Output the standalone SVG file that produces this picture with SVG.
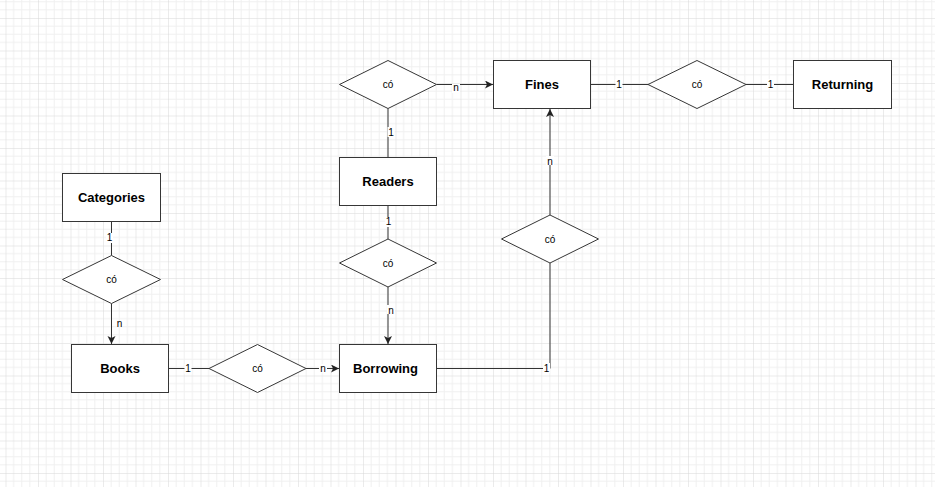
<svg xmlns="http://www.w3.org/2000/svg" width="935" height="487" viewBox="0 0 935 487">
<defs>
<pattern id="grid" patternUnits="userSpaceOnUse" x="5.5" y="18" width="32.5" height="32.5">
<path d="M8.125 0V32.5M16.25 0V32.5M24.375 0V32.5M0 8.125H32.5M0 16.25H32.5M0 24.375H32.5" stroke="#f0f0f0" stroke-width="1" fill="none"/>
<path d="M0 0V32.5M0 0H32.5" stroke="#d8d8d8" stroke-width="1" fill="none"/>
</pattern>
<marker id="arr" markerUnits="userSpaceOnUse" markerWidth="10" markerHeight="10" refX="8" refY="4" orient="auto">
<path d="M0,0 L8,4 L0,8 L2,4 Z" fill="#222"/>
</marker>
<style>
.ent{fill:#fff;stroke:#363636;stroke-width:1}
.rel{fill:#fff;stroke:#363636;stroke-width:1}
.nt{font-family:"Liberation Sans",Arial,sans-serif;font-size:13px;font-weight:bold;fill:#000;text-anchor:middle;dominant-baseline:central}
.rt{font-family:"Liberation Sans",Arial,sans-serif;font-size:10px;fill:#000;text-anchor:middle;dominant-baseline:central}
.edge{fill:none;stroke:#333;stroke-width:1}
.lbl{font-family:"Liberation Sans",Arial,sans-serif;font-size:10px;fill:#000;text-anchor:middle}
.lbg{fill:#fff}
</style>
</defs>
<rect width="935" height="487" fill="#fff"/>
<rect width="935" height="487" fill="url(#grid)"/>

<g id="connectors">
<path class="edge" d="M388 108.5V157.5"/>
<path class="edge" d="M436.5 84.5H493" marker-end="url(#arr)"/>
<path class="edge" d="M590.5 84.5H648"/>
<path class="edge" d="M746 84.5H793.5"/>
<path class="edge" d="M111.5 221.5V255.5"/>
<path class="edge" d="M111.5 303.5V344" marker-end="url(#arr)"/>
<path class="edge" d="M168.5 368.5H209"/>
<path class="edge" d="M306 368.5H339" marker-end="url(#arr)"/>
<path class="edge" d="M388 205.5V239"/>
<path class="edge" d="M388 287V344" marker-end="url(#arr)"/>
<path class="edge" d="M436.5 368.5H550V263"/>
<path class="edge" d="M550 215V109" marker-end="url(#arr)"/>

<rect class="lbg" x="452" y="84" width="8" height="9"/>
<text class="lbl" x="456" y="91">n</text>
<rect class="lbg" x="615.5" y="79" width="7" height="10"/>
<text class="lbl" x="619" y="87.5">1</text>
<rect class="lbg" x="767" y="79" width="7" height="10"/>
<text class="lbl" x="770.5" y="87.5">1</text>
<rect class="lbg" x="387.5" y="127" width="7" height="10"/>
<text class="lbl" x="391" y="135.5">1</text>
<rect class="lbg" x="106" y="233" width="7" height="10"/>
<text class="lbl" x="109.5" y="241">1</text>
<text class="lbl" x="119.5" y="327">n</text>
<rect class="lbg" x="184.5" y="364" width="7" height="10"/>
<text class="lbl" x="188" y="372">1</text>
<rect class="lbg" x="319" y="364" width="8" height="9"/>
<text class="lbl" x="323" y="371.5">n</text>
<rect class="lbg" x="385" y="217" width="7" height="10"/>
<text class="lbl" x="388.5" y="225">1</text>
<rect class="lbg" x="387" y="305" width="8" height="9"/>
<text class="lbl" x="391" y="313.5">n</text>
<rect class="lbg" x="546" y="156" width="8" height="9"/>
<text class="lbl" x="550" y="164.5">n</text>
<rect class="lbg" x="543" y="363" width="7" height="10"/>
<text class="lbl" x="546.5" y="371.5">1</text>
</g>

<g id="fines"><rect class="ent" x="493.5" y="60.5" width="97" height="48"/><text class="nt" x="542" y="84.5">Fines</text></g>
<g id="returning"><rect class="ent" x="793.5" y="60.5" width="98" height="48"/><text class="nt" x="842.5" y="84.5">Returning</text></g>
<g id="categories"><rect class="ent" x="62.5" y="173.5" width="98" height="48"/><text class="nt" x="111.5" y="197.5">Categories</text></g>
<g id="books"><rect class="ent" x="71.5" y="344.5" width="97" height="48"/><text class="nt" x="120" y="368.5">Books</text></g>
<g id="readers"><rect class="ent" x="339.5" y="157.5" width="97" height="48"/><text class="nt" x="388" y="181.5">Readers</text></g>
<g id="borrowing"><rect class="ent" x="339.5" y="344.5" width="97" height="48"/><text class="nt" x="385.5" y="368.5">Borrowing</text></g>

<g id="rel-readers-fines"><polygon class="rel" points="339.5,84.5 388,60.5 436.5,84.5 388,108.5"/><text class="rt" x="388" y="84.5">có</text></g>
<g id="rel-fines-returning"><polygon class="rel" points="648,84.5 697,60.5 746,84.5 697,108.5"/><text class="rt" x="697" y="84.5">có</text></g>
<g id="rel-categories-books"><polygon class="rel" points="62.5,279.5 111.5,255.5 160.5,279.5 111.5,303.5"/><text class="rt" x="111.5" y="279.5">có</text></g>
<g id="rel-books-borrowing"><polygon class="rel" points="209,368.5 257.5,344.5 306,368.5 257.5,392.5"/><text class="rt" x="257.5" y="368.5">có</text></g>
<g id="rel-readers-borrowing"><polygon class="rel" points="339.5,263 388,239 436.5,263 388,287"/><text class="rt" x="388" y="263">có</text></g>
<g id="rel-borrowing-fines"><polygon class="rel" points="501.5,239 550,215 598.5,239 550,263"/><text class="rt" x="550" y="239">có</text></g>
</svg>
